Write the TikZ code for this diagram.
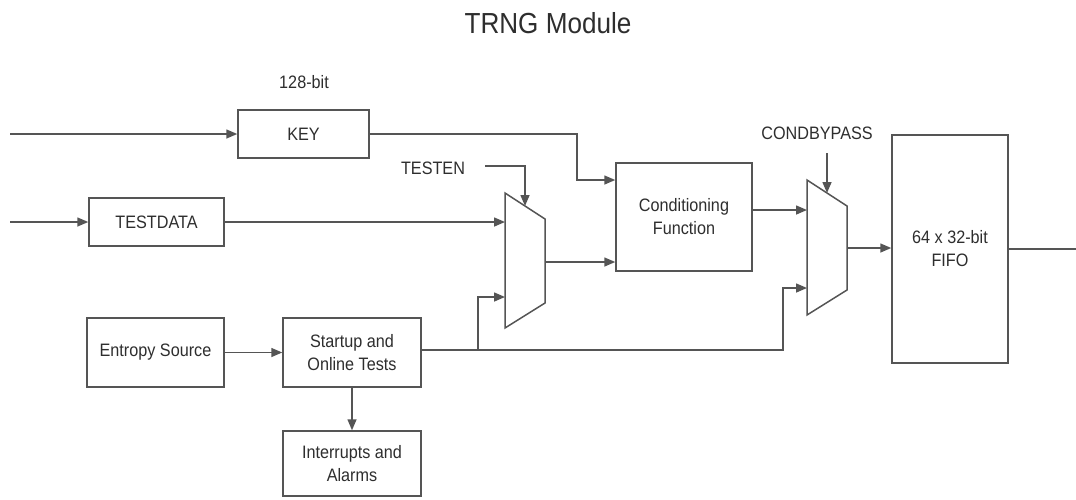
\documentclass[tikz,border=0pt]{standalone}
\usepackage{fontspec}
\setmainfont{Liberation Sans}[FakeStretch=0.9]
\usetikzlibrary{arrows.meta}
\definecolor{wire}{HTML}{555555}
\definecolor{ink}{HTML}{2E2E2E}
\begin{document}
\begin{tikzpicture}[x=1pt,y=-1pt,
  wirestyle/.style={draw=wire,line width=1.5pt},
  arr/.style={wirestyle,-{Triangle[length=11pt,width=9pt]}},
  block/.style={draw=wire,line width=1.5pt,fill=white,text=ink,align=center,
    inner sep=0pt,font=\fontsize{18}{23}\selectfont},
  lbl/.style={text=ink,inner sep=0pt,font=\fontsize{18}{23}\selectfont}]
\useasboundingbox (0,0) rectangle (1076,499);
\fill[white] (0,0) rectangle (1076,499);

% title
\node[text=ink,inner sep=0pt,anchor=base,font=\fontsize{29}{33}\selectfont] (title) at (548,33) {TRNG Module};

% blocks
\node[block,minimum width=131pt,minimum height=48pt] (key) at (303.5,134) {KEY};
\node[lbl] (keywidth) at (304,82) {128-bit};
\node[block,minimum width=135pt,minimum height=48pt] (testdata) at (156.5,222) {TESTDATA};
\node[block,minimum width=137pt,minimum height=69pt] (entropy) at (155.5,352.5) {Entropy Source};
\node[block,minimum width=138pt,minimum height=69pt] (startup) at (352,352.5) {Startup and\\Online Tests};
\node[block,minimum width=138pt,minimum height=65pt] (irq) at (352,463.5) {Interrupts and\\Alarms};
\node[block,minimum width=136pt,minimum height=108pt] (cond) at (684,217) {Conditioning\\Function};
\node[block,minimum width=116pt,minimum height=228pt] (fifo) at (950,249) {64 x 32-bit\\FIFO};
\node[lbl] (testen) at (433,168) {TESTEN};
\node[lbl] (condbypass) at (817,133) {CONDBYPASS};

% multiplexers
\draw[wirestyle,fill=white] (505,193) -- (545,219) -- (545,303) -- (505,328) -- cycle;
\coordinate (m1a) at (505,222);
\coordinate (m1b) at (505,297);
\coordinate (m1o) at (545,262);
\coordinate (m1s) at (525,206);
\draw[wirestyle,fill=white] (807,180) -- (847,206) -- (847,290) -- (807,315) -- cycle;
\coordinate (m2a) at (807,210);
\coordinate (m2b) at (807,288);
\coordinate (m2o) at (847,248);
\coordinate (m2s) at (827,193);

% free ends
\coordinate (keyin) at (10,134);
\coordinate (tdin) at (10,222);
\coordinate (fifoout) at (1076,249);
\coordinate (tap) at (478,350);
\coordinate (testensrc) at (485,166);
\coordinate (cbsrc) at (827,153);

% connectors
\draw[arr] (keyin) -- (key.west);
\draw[arr] (tdin) -- (testdata.west);
\draw[arr] (testdata.east) -- (m1a);
\draw[arr] (key.east) -| (577,180) -- (cond.west |- 0,180);
\draw[arr] (m1o) -- (cond.west |- m1o);
\draw[arr] (testensrc) -| (m1s);
\draw[arr] (entropy.east) -- (startup.west);
\draw[arr] (startup.east |- tap) -| (783,288) -- (m2b);
\draw[arr] (tap) |- (m1b);
\draw[arr] (startup.south) -- (irq.north);
\draw[arr] (cond.east |- m2a) -- (m2a);
\draw[arr] (cbsrc) -- (m2s);
\draw[arr] (m2o) -- (fifo.west |- m2o);
\draw[wirestyle] (fifo.east |- fifoout) -- (fifoout);
\end{tikzpicture}
\end{document}
